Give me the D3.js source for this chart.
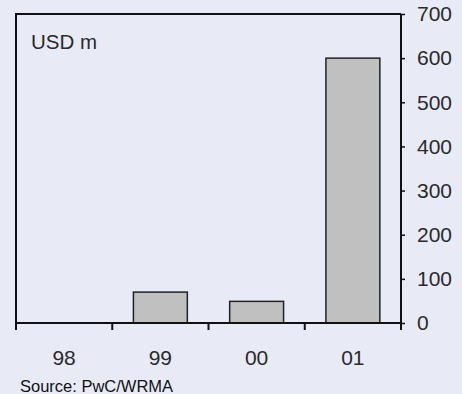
<!DOCTYPE html>
<html>
<head>
<meta charset="utf-8">
<script src="https://cdn.jsdelivr.net/npm/d3@7"></script>
<style>
  html, body { margin: 0; padding: 0; background: #e8eaf6; }
  svg { display: block; font-family: "Liberation Sans", Arial, Helvetica, sans-serif; }
</style>
</head>
<body>
<svg id="chart" width="462" height="394"></svg>
<script>
// Annual values, USD m
const years = ["98", "99", "00", "01"];
const values = [0, 70, 49, 600];
const yTicks = [0, 100, 200, 300, 400, 500, 600, 700];
const unitLabel = "USD m";
const sourceNote = "Source: PwC/WRMA";

const svg = d3.select("#chart");
const plot = { left: 16, right: 401, top: 14, bottom: 323 };

const x = d3.scaleBand().domain(years).range([plot.left, plot.right]).paddingInner(0.44).paddingOuter(0.22);
const xEdges = d3.scaleLinear().domain([0, years.length]).range([plot.left, plot.right]);
const y = d3.scaleLinear().domain([0, 700]).range([plot.bottom, plot.top]);

// Frame: top and left edges
svg.append("path")
  .attr("d", `M${plot.left},${plot.bottom} V${plot.top} H${plot.right}`)
  .attr("fill", "none").attr("stroke", "#111").attr("stroke-width", 2);

// Bars
svg.append("g").selectAll("rect")
  .data(years.map((c, i) => ({ c, v: values[i] })).filter(d => d.v > 0))
  .join("rect")
  .attr("x", d => x(d.c))
  .attr("width", x.bandwidth())
  .attr("y", d => y(d.v))
  .attr("height", d => y(0) - y(d.v))
  .attr("fill", "#c0c0c0")
  .attr("stroke", "#222")
  .attr("stroke-width", 1.5);

// Category axis: ticks on band boundaries, labels centred in each band
const xAxis = svg.append("g").attr("transform", `translate(0,${plot.bottom})`);
xAxis.append("line")
  .attr("x1", plot.left).attr("x2", plot.right)
  .attr("stroke", "#111").attr("stroke-width", 2);
xAxis.selectAll("line.tick")
  .data(d3.range(years.length + 1))
  .join("line").attr("class", "tick")
  .attr("x1", d => xEdges(d)).attr("x2", d => xEdges(d))
  .attr("y1", 0).attr("y2", 7)
  .attr("stroke", "#111").attr("stroke-width", 2);
xAxis.selectAll("text")
  .data(years)
  .join("text")
  .attr("x", d => x(d) + x.bandwidth() / 2)
  .attr("y", 42)
  .attr("text-anchor", "middle")
  .attr("font-size", 21)
  .attr("fill", "#2a2a2a")
  .text(d => d);

// Value axis on the right
const yAxis = svg.append("g")
  .attr("transform", `translate(${plot.right},0)`)
  .call(d3.axisRight(y).tickValues(yTicks).tickSize(4).tickPadding(12));
yAxis.select(".domain").remove();
yAxis.append("line")
  .attr("y1", plot.top).attr("y2", plot.bottom + 7)
  .attr("stroke", "#111").attr("stroke-width", 2);
yAxis.selectAll(".tick line").attr("stroke", "#111").attr("stroke-width", 1.5);
yAxis.selectAll(".tick text")
  .attr("font-size", 21)
  .attr("font-family", "'Liberation Sans', Arial, sans-serif")
  .attr("fill", "#2a2a2a");

// Unit label inside the frame
svg.append("text")
  .attr("x", 31).attr("y", 49)
  .attr("font-size", 20.5)
  .attr("fill", "#2a2a2a")
  .text(unitLabel);

// Source note
svg.append("text")
  .attr("x", 20).attr("y", 392)
  .attr("font-size", 16.5)
  .attr("fill", "#111")
  .text(sourceNote);
</script>
</body>
</html>
